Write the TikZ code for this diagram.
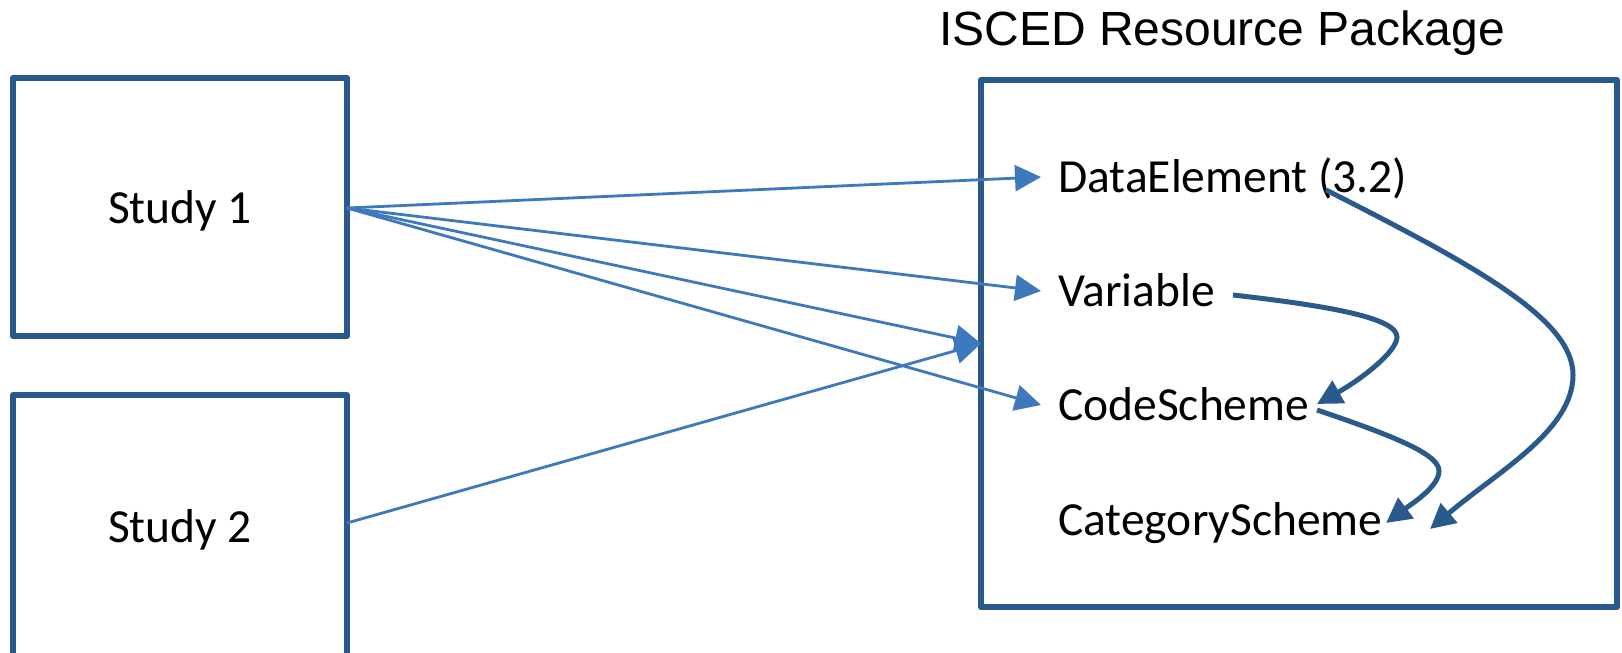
\documentclass[tikz,border=0pt]{standalone}
\usepackage{fontspec}
\setmainfont{Carlito}
\newfontfamily\arialf{Liberation Sans}
\usetikzlibrary{arrows.meta}
\definecolor{boxblue}{HTML}{2A5A8C}
\definecolor{linkblue}{HTML}{3D79BC}
\begin{document}
\begin{tikzpicture}[x=1pt,y=-1pt,
  box/.style={draw=boxblue,line width=6pt,line join=round,outer sep=0pt,inner sep=0pt,rectangle,
              text height=32pt,text depth=0pt,font=\fontsize{47.5}{56}\selectfont},
  lbl/.style={anchor=base west,inner xsep=17pt,inner ysep=0pt,text height=30pt,text depth=0pt,
              font=\fontsize{47.5}{56}\selectfont},
  link/.style={draw=linkblue,line width=2.8pt,-{Triangle[length=26pt,width=26pt]}},
  curv/.style={draw=boxblue,line width=5pt,-{Triangle[length=25pt,width=25pt]}}]
\clip (0,0) rectangle (1622,653);

\node[box,minimum width=334pt,minimum height=258pt] (s1) at (180,207) {Study 1};
\node[box,minimum width=334pt,minimum height=262pt] (s2) at (180,526) {Study 2};
\node[box,minimum width=636pt,minimum height=527pt] (pkg) at (1299,343.5) {};

\node[anchor=base,inner sep=0pt,font=\arialf\fontsize{48}{56}\selectfont] (title) at (1222,45) {ISCED Resource Package};

\node[lbl] (de)  at (1041,192) {DataElement (3.2)};
\node[lbl] (var) at (1041,306) {Variable};
\node[lbl] (code) at (1041,420) {CodeScheme};
\node[lbl] (cat) at (1041,535) {CategoryScheme};

\draw[link] ([yshift=-1pt]s1.east) -- (de.west);
\draw[link] ([yshift=-1pt]s1.east) -- (var.west);
\draw[link] ([yshift=-1pt]s1.east) -- (pkg.west);
\draw[link] ([yshift=-1pt]s1.east) -- (code.west);
\draw[link] ([yshift=3pt]s2.east) -- (pkg.west);

\draw[curv] ([xshift=285pt,yshift=2pt]de.base west)
  .. controls (1480,268) and (1573,320) .. (1573,375)
  .. controls (1573,430) and (1500,470) .. ([xshift=389pt,yshift=6pt]cat.base west);
\draw[curv] ([xshift=192pt,yshift=11pt]var.base west)
  .. controls (1330,306) and (1397,318) .. (1397,337)
  .. controls (1397,352) and (1360,380) .. ([xshift=276pt,yshift=16pt]code.base west);
\draw[curv] ([xshift=276pt,yshift=10pt]code.base west)
  .. controls (1400,438) and (1439,455) .. (1439,471)
  .. controls (1439,487) and (1410,505) .. ([xshift=345pt,yshift=12pt]cat.base west);
\end{tikzpicture}
\end{document}
